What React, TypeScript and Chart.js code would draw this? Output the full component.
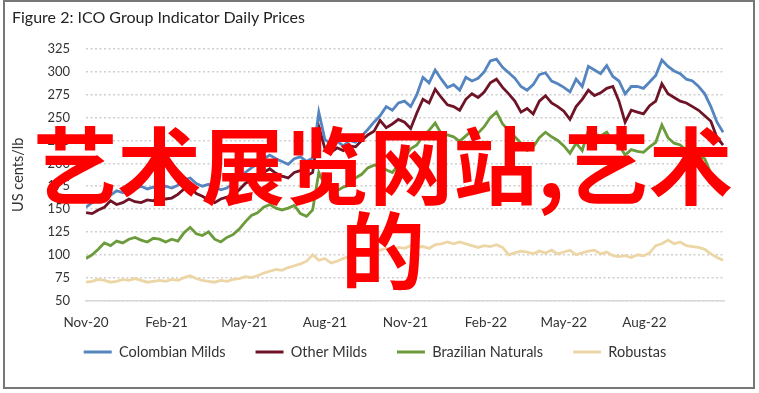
import React, { useEffect, useRef } from "react";
import { Chart, registerables } from "chart.js";

Chart.register(...registerables);

// Weekly readings (US cents/lb), first point = 1 Nov 2020, one point every 7 days
const colombianMilds = [
  152, 157, 160, 167, 165, 170, 168, 174, 172, 175, 172, 174, 171, 175, 173, 176, 182, 184, 178, 175,
  177, 174, 171, 173, 178, 182, 190, 195, 199, 205, 209, 205, 202, 199, 205, 207, 202, 206, 256, 226,
  221, 224, 219, 225, 223, 230, 237, 245, 252, 262, 258, 266, 268, 262, 275, 294, 288, 302, 292, 283,
  286, 280, 294, 290, 293, 300, 312, 314, 305, 299, 293, 284, 280, 286, 297, 299, 290, 287, 283, 278,
  292, 284, 306, 302, 298, 307, 295, 290, 276, 284, 284, 282, 289, 296, 313, 306, 301, 298, 292, 290,
  284, 276, 262, 245, 234,
];
const otherMilds = [
  146, 145, 149, 152, 159, 155, 157, 161, 158, 157, 160, 159, 163, 161, 162, 166, 172, 174, 167, 164,
  160, 157, 161, 163, 166, 171, 178, 182, 185, 190, 194, 189, 186, 184, 190, 192, 186, 190, 240, 216,
  212, 217, 214, 219, 218, 225, 231, 235, 247, 239, 243, 248, 245, 238, 255, 270, 266, 281, 272, 264,
  262, 258, 270, 276, 272, 278, 288, 292, 283, 276, 268, 256, 260, 254, 268, 274, 266, 262, 257, 248,
  262, 270, 280, 274, 277, 282, 284, 268, 245, 258, 256, 254, 263, 268, 287, 276, 272, 268, 266, 262,
  258, 252, 246, 228, 220,
];
const brazilianNaturals = [
  96, 100, 106, 113, 110, 115, 113, 117, 119, 116, 114, 118, 117, 114, 117, 115, 124, 130, 123, 121,
  125, 117, 114, 119, 122, 128, 136, 143, 146, 152, 155, 151, 149, 151, 154, 145, 142, 149, 190, 176,
  172, 170, 174, 176, 184, 188, 195, 198, 197, 193, 190, 198, 206, 216, 220, 230, 236, 244, 232, 231,
  229, 224, 230, 236, 233, 240, 250, 256, 243, 236, 229, 222, 214, 218, 228, 234, 229, 225, 219, 211,
  222, 214, 236, 232, 230, 234, 224, 220, 209, 215, 213, 212, 218, 223, 242, 228, 222, 220, 214, 211,
  208, 205, 189, 178, 172,
];
const robustas = [
  70, 71, 73, 72, 70, 71, 73, 72, 74, 72, 70, 71, 72, 71, 73, 72, 75, 77, 74, 72,
  71, 70, 72, 71, 73, 74, 76, 75, 77, 80, 82, 84, 83, 86, 88, 90, 93, 100, 94, 96,
  91, 93, 96, 98, 101, 104, 105, 103, 105, 107, 106, 108, 107, 110, 108, 109, 107, 111, 112, 114,
  112, 114, 112, 110, 108, 110, 109, 111, 108, 100, 102, 104, 103, 101, 104, 102, 105, 101, 103, 105,
  100, 102, 104, 105, 101, 103, 99, 98, 99, 97, 100, 99, 102, 110, 112, 116, 112, 114, 110, 109,
  108, 106, 101, 97, 94,
];

const seriesNames = ["Colombian Milds", "Other Milds", "Brazilian Naturals", "Robustas"];
const seriesColors = ["#5585c1", "#6e1426", "#6b9b3b", "#edd6a6"];

// x-axis: days after 1 Nov 2020
const tickLabels = ["Nov-20", "Feb-21", "May-21", "Aug-21", "Nov-21", "Feb-22", "May-22", "Aug-22"];
const tickDays = [0, 92, 181, 273, 365, 457, 546, 638];
const lastDay = 729;
const yTicks = [50, 75, 100, 125, 150, 175, 200, 225, 250, 275, 300, 325];

const titleText = "Figure 2: ICO Group Indicator Daily Prices";
const yTitle = "US cents/lb";
const overlayText = "艺术展览网站,艺术的";

const FONT = "Lato, 'Open Sans', sans-serif";
const TEXT_COLOR = "#333333";

const LEGEND_DY = -17.75;
const LEGEND_DX = 10.5;

const legendShift = {
  id: "legendShift",
  afterLayout(chart: any) {
    const l = chart.legend;
    if (!l) return;
    l.top += LEGEND_DY;
    l.bottom += LEGEND_DY;
    l.left += LEGEND_DX;
    l.right += LEGEND_DX;
  },
};

export default function App() {
  const canvasRef = useRef<HTMLCanvasElement | null>(null);

  useEffect(() => {
    const canvas = canvasRef.current;
    if (!canvas) return;
    const allSeries = [colombianMilds, otherMilds, brazilianNaturals, robustas];
    const datasets = allSeries.map((vals, s) => ({
      label: seriesNames[s],
      data: vals.map((v, i) => ({ x: i * 7, y: v })),
      borderColor: seriesColors[s],
      backgroundColor: seriesColors[s],
      borderWidth: 2.8,
      pointRadius: 0,
      tension: 0,
      fill: false,
      order: s,
    }));

    const chart = new Chart(canvas, {
      type: "line",
      data: { datasets },
      plugins: [legendShift],
      options: {
        animation: false,
        responsive: false,
        maintainAspectRatio: false,
        layout: { padding: { left: 0, right: 29, top: 47, bottom: 0 } },
        scales: {
          x: {
            type: "linear",
            min: 0,
            max: lastDay,
            afterBuildTicks: (s: any) => {
              s.ticks = tickDays.map((v) => ({ value: v }));
            },
            afterFit: (s: any) => {
              s.height = 32;
            },
            ticks: {
              autoSkip: false,
              maxRotation: 0,
              padding: 14.5,
              color: TEXT_COLOR,
              font: { family: FONT, size: 13.5 },
              callback: (v: any) => {
                const k = tickDays.indexOf(Number(v));
                return k >= 0 ? tickLabels[k] : "";
              },
            },
            grid: { display: false, drawTicks: false },
            border: { display: true, color: "#d9d9d9", width: 1.5 },
          },
          y: {
            min: 50,
            max: 325,
            afterBuildTicks: (s: any) => {
              s.ticks = yTicks.map((v) => ({ value: v }));
            },
            afterFit: (s: any) => {
              s.width = 81;
            },
            ticks: {
              padding: 16,
              color: TEXT_COLOR,
              font: { family: FONT, size: 13 },
            },
            grid: { color: "#cfcfcf", lineWidth: 1.5, drawTicks: false },
            border: { display: false, dash: [2, 2.5] },
            title: {
              display: true,
              text: yTitle,
              color: TEXT_COLOR,
              font: { family: FONT, size: 14.5 },
              padding: { top: 5, bottom: 0 },
            },
          },
        },
        plugins: {
          legend: {
            position: "bottom",
            labels: {
              boxWidth: 28,
              boxHeight: 3,
              padding: 30,
              color: TEXT_COLOR,
              font: { family: FONT, size: 14.5 },
              generateLabels: () =>
                seriesNames.map((name, i) => ({
                  text: name,
                  fillStyle: seriesColors[i],
                  strokeStyle: seriesColors[i],
                  lineWidth: 0,
                  hidden: false,
                  datasetIndex: i,
                  fontColor: TEXT_COLOR,
                })),
            },
          },
          tooltip: { enabled: false },
          title: { display: false },
        },
      },
    });
    return () => chart.destroy();
  }, []);

  return (
    <div
      style={{
        position: "fixed",
        left: 3,
        top: 0,
        width: 752,
        height: 389,
        boxSizing: "border-box",
        border: "2px solid #777777",
        background: "#ffffff",
      }}
    >
      <canvas
        ref={canvasRef}
        width={748}
        height={385}
        style={{ position: "absolute", left: 0, top: 0, width: 748, height: 385 }}
      />
      <div
        style={{
          position: "absolute",
          left: 7,
          top: 5,
          fontFamily: FONT,
          fontSize: 16,
          lineHeight: "20px",
          color: "#222222",
          whiteSpace: "nowrap",
        }}
      >
        {titleText}
      </div>
      <div
        style={{
          position: "absolute",
          left: 18,
          top: 117,
          width: 720,
          textAlign: "center",
          fontFamily: "'Noto Sans CJK SC', sans-serif",
          fontWeight: 700,
          fontSize: 84,
          lineHeight: "85px",
          color: "#ff0000",
          pointerEvents: "none",
        }}
      >
        {overlayText}
      </div>
    </div>
  );
}
